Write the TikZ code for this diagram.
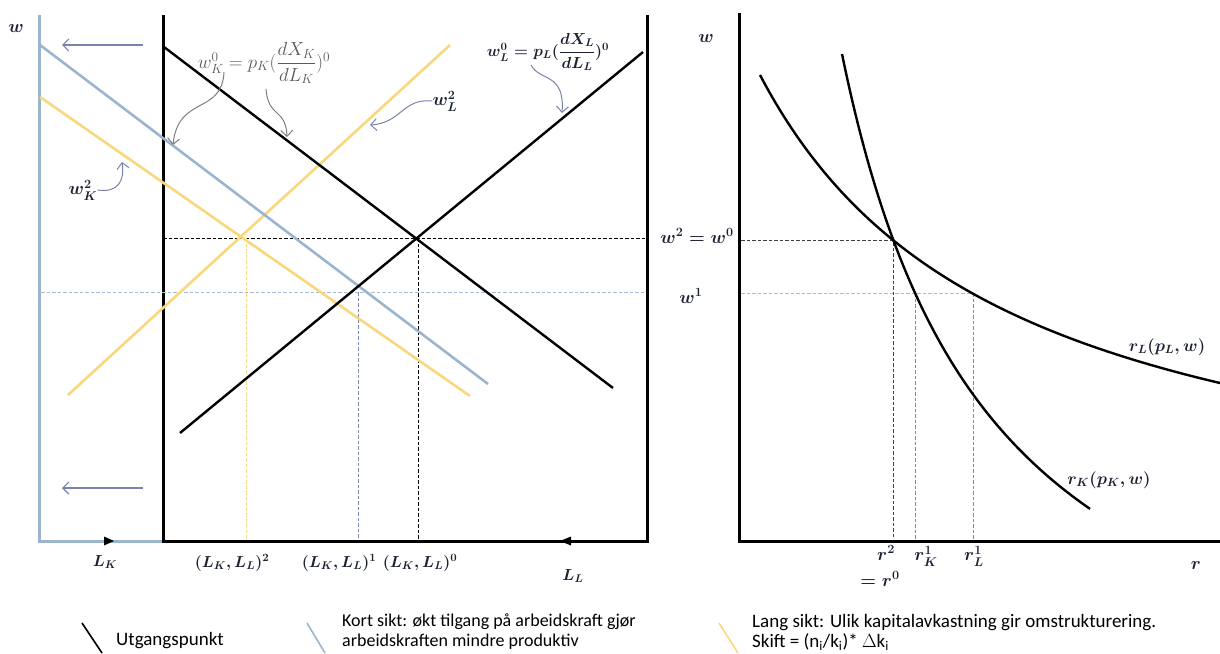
\RequirePackage{fix-cm}
\documentclass[tikz,border=0pt]{standalone}
\usepackage{amsmath}
\usepackage{fontspec}
\newfontfamily\legendfont{Carlito}
\usetikzlibrary{arrows.meta}
\definecolor{lblue}{HTML}{9BB5CE}
\definecolor{lyellow}{HTML}{F9D77C}
\definecolor{annogray}{HTML}{7F7F7F}
\definecolor{annopurple}{HTML}{7B82AB}
\definecolor{dashlight}{HTML}{A9BBD0}
\definecolor{dashpurple}{HTML}{7E87B5}
\definecolor{labgray}{HTML}{5A5A5A}
\definecolor{labdark}{HTML}{1C2233}
\begin{document}
\begin{tikzpicture}[x=1pt,y=-1pt,
  axisblue/.style={line width=3pt, draw=lblue},
  axisblack/.style={line width=3pt, draw=black},
  baseline/.style={line width=2.4pt, draw=black},
  shortrun/.style={line width=2.6pt, draw=lblue},
  longrun/.style={line width=2.6pt, draw=lyellow},
  dsh/.style={line width=1pt, dash pattern=on 3.5pt off 2pt},
  anno/.style={line width=1pt, -{Straight Barb[length=6pt,width=12pt]}},
  lab/.style={inner sep=0pt, text=labdark, font=\fontsize{16}{18}\selectfont\boldmath},
  labbig/.style={inner sep=0pt, text=labdark, font=\fontsize{18}{20}\selectfont\boldmath},
  leg/.style={inner sep=0pt, anchor=west, align=left, font=\legendfont\fontsize{19}{20}\selectfont}
]
\useasboundingbox (0,0) rectangle (1220,653);

% ---------- left panel axes ----------
\draw[axisblue] (39,15) -- (39,541) -- (163,541);
\draw[axisblack] (163,15) -- (163,541) -- (647,541) -- (647,15);
\fill[black] (114,541) -- (104,536.5) -- (104,545.5) -- cycle;
\fill[black] (560,541) -- (571,536.5) -- (571,545.5) -- cycle;

% ---------- dashed guides (left) ----------
\draw[dsh, black] (163,238) -- (645,238);
\draw[dsh, dashlight] (41,292) -- (645,292);
\draw[dsh, lyellow] (246,238) -- (246,539);
\draw[dsh, dashpurple] (358,292) -- (358,539);
\draw[dsh, black] (418,238) -- (418,539);

% ---------- lines (left) ----------
\draw[longrun] (40,97) -- (470,396);
\draw[longrun] (68,395) -- (450,45);
\draw[shortrun] (40,45) -- (488,384);
\draw[baseline] (164,47) -- (613,388);
\draw[baseline] (180,433) -- (643,52);

% ---------- shift arrows ----------
\coordinate (sa1) at (143,45); \coordinate (sa1e) at (62,45);
\coordinate (sa2) at (143,488); \coordinate (sa2e) at (62,488);
\draw[anno, annopurple, line width=1.2pt] (sa1) -- (sa1e);
\draw[anno, annopurple, line width=1.2pt] (sa2) -- (sa2e);

% ---------- labels (left) ----------
\node[labbig] (wtop) at (16,28) {$w$};
\node[lab, text=labgray, font=\fontsize{19}{21}\selectfont] (wK0) at (264,63) {$w_K^0 = p_K(\dfrac{dX_K}{dL_K})^0$};
\node[lab] (wL0) at (548,52) {$w_L^0 = p_L(\dfrac{dX_L}{dL_L})^0$};
\node[labbig] (wK2) at (83,190) {$w_K^2$};
\node[labbig] (wL2) at (445,101) {$w_L^2$};

\coordinate (k0a) at (224,72); \coordinate (k0b) at (173,145);
\coordinate (k0c) at (266,89); \coordinate (k0d) at (287,137);
\draw[anno, annogray] (k0a) .. controls (222,115) and (178,95) .. (k0b);
\draw[anno, annogray] (k0c) .. controls (268,118) and (286,108) .. (k0d);
\coordinate (k2t) at (122,162);
\draw[anno, annopurple] (wK2.east) .. controls (117,193) and (125,182) .. (k2t);
\coordinate (l2t) at (370,125);
\draw[anno, annopurple] (wL2.west) .. controls (402,98) and (402,123) .. (l2t);
\coordinate (l0a) at (531,65); \coordinate (l0t) at (562,113);
\draw[anno, annopurple] (l0a) .. controls (540,82) and (565,72) .. (l0t);

\node[lab] (LK) at (105,562) {$L_K$};
\node[lab] (LL2) at (232,563) {$(L_K,L_L)^2$};
\node[lab] (LL1) at (339,563) {$(L_K,L_L)^1$};
\node[lab] (LL0) at (420,563) {$(L_K,L_L)^0$};
\node[lab] (LL) at (573,576) {$L_L$};

% ---------- right panel ----------
\draw[axisblack] (739,13) -- (739,541) -- (1220,541);
\draw[dsh, black!75] (741,240) -- (893,240) -- (893,539);
\draw[dsh, dashlight] (741,293) -- (973,293);
\draw[dsh, dashpurple] (915,293) -- (915,539);
\draw[dsh, dashpurple] (973,293) -- (973,539);
\draw[line width=2.4pt, black, domain=760:1220, samples=80, smooth]
  plot (\x, {550.4 - 1188.5/((\x-510)/100)});
\draw[line width=2.4pt, black, domain=842:1090, samples=80, smooth]
  plot (\x, {784 - 1095/((\x-692)/100)});

\node[labbig] (wR) at (706,38) {$w$};
\node[labbig] (w20) at (697,236) {$w^2 = w^0$};
\node[labbig] (w1) at (691,296) {$w^1$};
\node[labbig] (r2) at (886,553) {$r^2$};
\node[labbig] (r0) at (880,579) {$= r^0$};
\node[labbig] (rK1) at (926,556) {$r_K^1$};
\node[labbig] (rL1) at (974,556) {$r_L^1$};
\node[labbig] (rax) at (1196,565) {$r$};
\node[lab, font=\fontsize{17}{19}\selectfont\boldmath] (rLlab) at (1167,347) {$r_L(p_L,w)$};
\node[lab, font=\fontsize{17}{19}\selectfont\boldmath] (rKlab) at (1109,480) {$r_K(p_K,w)$};

% ---------- legend ----------
\draw[line width=1.6pt, black] (82,623) -- (102,653);
\node[leg] (leg1) at (116,641) {Utgangspunkt};
\draw[line width=1.6pt, lblue] (307,623) -- (325,653);
\node[leg, font=\legendfont\fontsize{18}{20}\selectfont] (leg2) at (342,632) {Kort sikt: økt tilgang på arbeidskraft gjør\\arbeidskraften mindre produktiv};
\draw[line width=1.6pt, lyellow] (719,623) -- (738,653);
\node[leg] (leg3) at (752,632) {Lang sikt: Ulik kapitalavkastning gir omstrukturering.\\Skift = (n\textsubscript{i}/k\textsubscript{i})* $\Delta$k\textsubscript{i}};
\end{tikzpicture}
\end{document}
